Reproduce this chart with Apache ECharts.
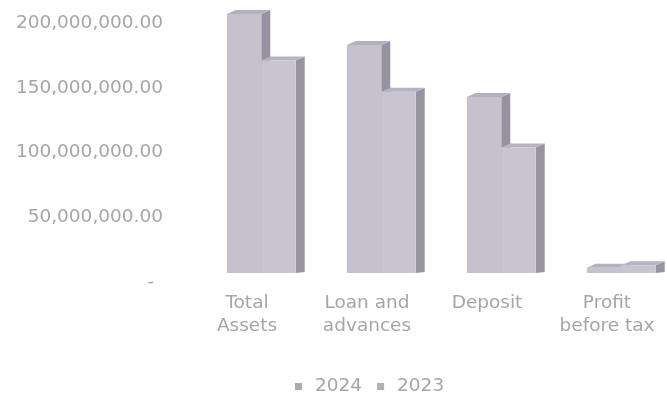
<!DOCTYPE html>
<html>
<head>
<meta charset="utf-8">
<script src="https://cdn.jsdelivr.net/npm/echarts@6/dist/echarts.min.js"></script>
<style>
  html, body { margin: 0; padding: 0; background: #ffffff; }
  #chart { width: 667px; height: 398px; }
</style>
</head>
<body>
<div id="chart"></div>
<script>
// Key balance sheet figures, 2024 vs 2023
const categories = ['Total\nAssets', 'Loan and\nadvances', 'Deposit', 'Profit\nbefore tax'];
const values2024 = [200000000, 176000000, 136000000, 4000000];
const values2023 = [164000000, 140000000, 97000000, 6000000];
const yTicks = { min: 0, max: 200000000, interval: 50000000 };

const FONT = 'DejaVu Sans';
const TEXT = '#a6a6a6';

// Colours of the three visible faces of each column
const faces = [
  { front: '#c5c2ce', side: '#96929f', top: '#b4b0bf' },
  { front: '#c8c5d0', side: '#98949f', top: '#b7b3c2' }
];

// Draws a column as a front face with a right side and a top in depth.
function columnRenderer(idx) {
  return function (params, api) {
    const cat = api.value(0);
    const val = api.value(1);
    const base = api.coord([cat, 0]);
    const peak = api.coord([cat, val]);
    const band = api.size([1, 0])[0];
    const lift = 9;          // columns stand back from the front edge of the floor
    const dx = 9, dy = 4;    // depth of the column
    const w = band * 0.287;
    const x0 = base[0] - band * 0.168 + idx * w;
    const x1 = x0 + w;
    const yb = base[1] - lift;
    const yt = peak[1] - lift;
    const f = faces[idx];
    return {
      type: 'group',
      children: [
        { type: 'polygon', shape: { points: [[x1, yt], [x1 + dx, yt - dy], [x1 + dx, yb - dy + 3], [x1, yb]] },
          style: { fill: f.side } },
        { type: 'polygon', shape: { points: [[x0, yt], [x0 + dx, yt - dy], [x1 + dx, yt - dy], [x1, yt]] },
          style: { fill: f.top } },
        { type: 'rect', shape: { x: x0, y: yt, width: w, height: yb - yt },
          style: { fill: f.front } }
      ]
    };
  };
}

function seriesData(vals) {
  return vals.map((v, i) => [i, v]);
}

const chart = echarts.init(document.getElementById('chart'), null, { renderer: 'canvas' });
chart.setOption({
  animation: false,
  backgroundColor: '#ffffff',
  textStyle: { fontFamily: FONT },
  grid: { left: 187, width: 490, top: 23, bottom: 116, containLabel: false },
  xAxis: {
    type: 'category',
    data: categories,
    axisLine: { show: false },
    axisTick: { show: false },
    axisLabel: { color: TEXT, fontFamily: FONT, fontSize: 18.5, lineHeight: 23, margin: 10, interval: 0 }
  },
  yAxis: {
    type: 'value',
    min: yTicks.min,
    max: yTicks.max,
    interval: yTicks.interval,
    axisLine: { show: false },
    axisTick: { show: false },
    splitLine: { show: false },
    axisLabel: {
      color: TEXT, fontFamily: FONT, fontSize: 18.5, margin: 24,
      formatter: function (v) {
        if (v === 0) return '{d|-}';
        return v.toLocaleString('en-US', { minimumFractionDigits: 2, maximumFractionDigits: 2 });
      },
      rich: { d: { color: TEXT, fontFamily: FONT, fontSize: 18, padding: [0, 9, 0, 0] } }
    }
  },
  legend: {
    data: ['2024', '2023'],
    left: 290,
    top: 372,
    itemWidth: 7,
    itemHeight: 7,
    itemGap: 15,
    icon: 'rect',
    textStyle: { color: TEXT, fontFamily: FONT, fontSize: 18.5, padding: [0, 0, 0, 8] }
  },
  series: [
    { name: '2024', type: 'custom', renderItem: columnRenderer(0), itemStyle: { color: '#acaab2' },
      encode: { x: 0, y: 1 }, data: seriesData(values2024), clip: false },
    { name: '2023', type: 'custom', renderItem: columnRenderer(1), itemStyle: { color: '#b2b0b8' },
      encode: { x: 0, y: 1 }, data: seriesData(values2023), clip: false }
  ]
});
</script>
</body>
</html>
